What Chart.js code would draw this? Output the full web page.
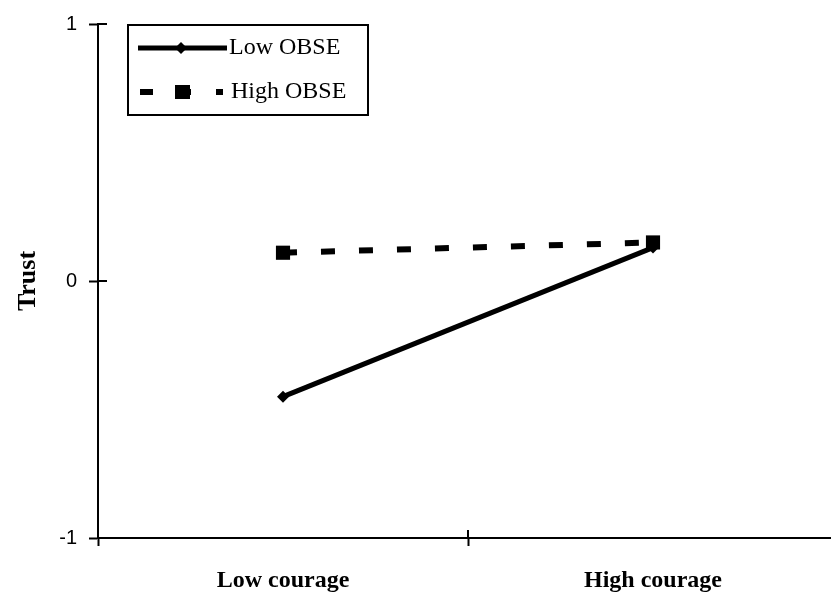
<!DOCTYPE html>
<html>
<head>
<meta charset="utf-8">
<script src="https://cdn.jsdelivr.net/npm/chart.js@4.4.1/dist/chart.umd.min.js"></script>
<style>
  html, body { margin: 0; padding: 0; background: #fff; overflow: hidden; }
  #grafico { display: block; }
</style>
</head>
<body>
<canvas id="grafico" width="845" height="599"></canvas>
<script>
// Datos
const categorias = ["Low courage", "High courage"];
const lowObse = [-0.45, 0.13];
const highObse = [0.11, 0.15];
const ticksY = [-1, 0, 1];
const nombresSeries = ["Low OBSE", "High OBSE"];

const serif = "'Liberation Serif', 'Times New Roman', serif";
const sans = "'Liberation Sans', Arial, sans-serif";

// Marcas interiores de los ejes (cruzan la linea del eje)
const marcasInteriores = {
  id: "marcasInteriores",
  afterDraw(chart) {
    const ctx = chart.ctx;
    const x = chart.scales.x;
    const y = chart.scales.y;
    ctx.save();
    ctx.strokeStyle = "#000";
    ctx.lineWidth = 2;
    ctx.beginPath();
    y.ticks.forEach((t, i) => {
      const py = Math.round(y.getPixelForTick(i));
      ctx.moveTo(x.left, py);
      ctx.lineTo(x.left + 9, py);
    });
    for (let i = 1; i < categorias.length; i++) {
      const px = Math.round(x.getPixelForValue(i - 0.5));
      ctx.moveTo(px, y.bottom);
      ctx.lineTo(px, y.bottom - 8);
    }
    ctx.stroke();
    ctx.restore();
  }
};

// Leyenda dibujada a mano para imitar el recuadro original
const leyenda = {
  id: "leyenda",
  afterDraw(chart) {
    const ctx = chart.ctx;
    ctx.save();
    ctx.strokeStyle = "#000";
    ctx.lineWidth = 2;
    ctx.strokeRect(128, 25, 240, 90);

    // Low OBSE
    ctx.lineWidth = 5;
    ctx.beginPath();
    ctx.moveTo(138, 48);
    ctx.lineTo(227, 48);
    ctx.stroke();
    ctx.fillStyle = "#000";
    ctx.beginPath();
    ctx.moveTo(181 - 6, 48);
    ctx.lineTo(181, 42);
    ctx.lineTo(181 + 6, 48);
    ctx.lineTo(181, 54);
    ctx.closePath();
    ctx.fill();

    // High OBSE
    ctx.lineWidth = 6;
    ctx.setLineDash([13, 25]);
    ctx.beginPath();
    ctx.moveTo(140, 92);
    ctx.lineTo(223, 92);
    ctx.stroke();
    ctx.setLineDash([]);
    ctx.fillRect(175, 85, 15, 14);

    ctx.font = "24px " + serif;
    ctx.textBaseline = "middle";
    ctx.textAlign = "left";
    ctx.fillText(nombresSeries[0], 229, 48);
    ctx.fillText(nombresSeries[1], 231, 92);
    ctx.restore();
  }
};

const ctx = document.getElementById("grafico").getContext("2d");
new Chart(ctx, {
  type: "line",
  data: {
    labels: categorias,
    datasets: [
      {
        label: nombresSeries[0],
        data: lowObse,
        borderColor: "#000",
        backgroundColor: "#000",
        borderWidth: 5,
        pointStyle: "rectRot",
        pointRadius: 6,
        pointBorderWidth: 0,
        fill: false,
        tension: 0
      },
      {
        label: nombresSeries[1],
        data: highObse,
        borderColor: "#000",
        backgroundColor: "#000",
        borderWidth: 6,
        borderDash: [14, 24],
        pointStyle: "rect",
        pointRadius: 10,
        pointBorderWidth: 0,
        fill: false,
        tension: 0
      }
    ]
  },
  options: {
    responsive: false,
    animation: false,
    layout: { autoPadding: false, padding: { top: 22, right: 7, left: 0, bottom: 0 } },
    plugins: {
      legend: { display: false },
      tooltip: { enabled: false }
    },
    scales: {
      x: {
        type: "category",
        offset: true,
        afterFit: (scale) => {
          scale.height = 61;
          scale.paddingLeft = 0;
          scale.paddingRight = 0;
        },
        grid: {
          offset: true,
          drawOnChartArea: false,
          drawTicks: true,
          tickLength: 8,
          tickColor: "#000",
          tickWidth: 2
        },
        border: { display: true, color: "#000", width: 2 },
        ticks: {
          color: "#000",
          padding: 20,
          maxRotation: 0,
          font: { family: serif, size: 24, weight: "bold" }
        }
      },
      y: {
        min: -1,
        max: 1,
        afterFit: (scale) => { scale.width = 98; },
        afterBuildTicks: (scale) => {
          scale.ticks = ticksY.map(v => ({ value: v }));
        },
        grid: {
          drawOnChartArea: false,
          drawTicks: true,
          tickLength: 9,
          tickColor: "#000",
          tickWidth: 2
        },
        border: { display: true, color: "#000", width: 2 },
        ticks: {
          color: "#000",
          padding: 12,
          font: { family: sans, size: 20 }
        },
        title: {
          display: true,
          text: "Trust",
          color: "#000",
          padding: { top: 13, bottom: 0 },
          font: { family: serif, size: 26, weight: "bold" }
        }
      }
    }
  },
  plugins: [marcasInteriores, leyenda]
});
</script>
</body>
</html>
